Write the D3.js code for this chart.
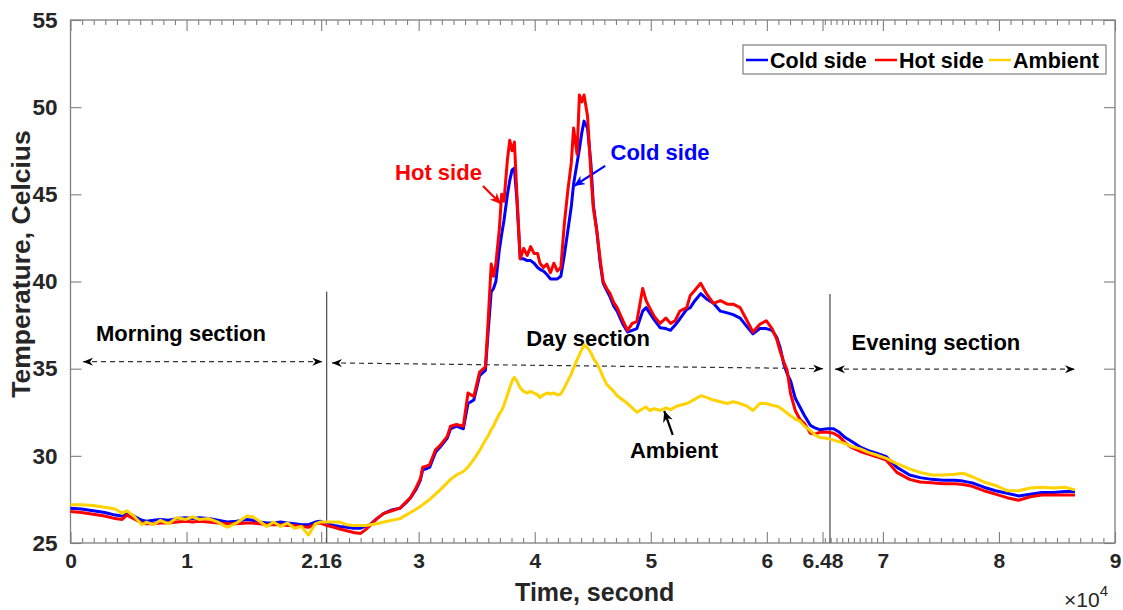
<!DOCTYPE html>
<html>
<head>
<meta charset="utf-8">
<script src="https://cdn.jsdelivr.net/npm/d3@7"></script>
<style>
  body { margin: 0; background: #fff; }
  svg { display: block; font-family: "Liberation Sans", Arial, sans-serif; }
  .tick text { font-weight: bold; fill: #262626; }
</style>
</head>
<body>
<div id="chart"></div>
<script>
// time in seconds, temperatures in Celsius
const timeSec = [
  0, 950, 1950, 2950, 3850, 4450, 4850, 5450, 6150, 6550,
  7150, 7750, 8450, 9150, 9950, 10500, 11100, 11900, 12700, 13500,
  14300, 15200, 15700, 16300, 16900, 17500, 18100, 18700, 19300, 19900,
  20500, 21100, 21500, 22100, 22700, 23200, 23800, 24400, 25000, 25400,
  25800, 26400, 27000, 27700, 28400, 28900, 29300, 29800, 30150, 30350,
  30650, 30950, 31450, 31850, 32450, 32750, 33250, 33850, 34250, 34750,
  35250, 35750, 35950, 36250, 36450, 36650, 36950, 37150, 37350, 37650,
  37850, 38050, 38250, 38450, 38750, 39050, 39350, 39650, 39950, 40250,
  40450, 40750, 41050, 41350, 41650, 41950, 42250, 42550, 42850, 43150,
  43350, 43650, 43850, 44050, 44250, 44550, 44850, 45050, 45350, 45650,
  45900, 46200, 46500, 46800, 47100, 47600, 48000, 48400, 48800, 49300,
  49600, 49900, 50300, 50800, 51300, 51700, 52100, 52500, 53100, 53400,
  53800, 54300, 54800, 55400, 56000, 56600, 57100, 57700, 58300, 58800,
  59400, 59950, 60450, 60850, 61150, 61450, 61750, 62050, 62450, 62850,
  63250, 63750, 64150, 64550, 65250, 65750, 66250, 66750, 67250, 68050,
  68750, 69450, 70300, 71200, 72300, 73200, 74200, 75200, 76200, 76900,
  77700, 78700, 79700, 80700, 81700, 82700, 83700, 84700, 85700, 86550
]

const coldSide = [
  27.0, 26.95, 26.85, 26.75, 26.6, 26.55, 26.7, 26.55, 26.3, 26.25,
  26.3, 26.35, 26.3, 26.4, 26.45, 26.4, 26.45, 26.4, 26.3, 26.2,
  26.25, 26.35, 26.3, 26.2, 26.15, 26.15, 26.2, 26.15, 26.1, 26.05,
  26.05, 26.2, 26.25, 26.1, 26.0, 25.95, 25.9, 25.85, 25.85, 25.95,
  26.05, 26.4, 26.7, 26.9, 27.0, 27.3, 27.6, 28.1, 28.6, 29.2,
  29.25, 29.35, 30.2, 30.5, 31.0, 31.55, 31.7, 31.55, 33.0, 33.2,
  34.6, 34.9, 36.8, 39.4, 39.6, 40.0, 41.8, 42.7, 43.5, 45.0,
  45.8, 46.4, 46.5, 44.8, 41.3, 41.3, 41.2, 41.2, 41.05, 40.8,
  40.7, 40.6, 40.4, 40.15, 40.15, 40.15, 40.3, 41.5, 42.9, 44.3,
  45.6, 46.8, 47.6, 48.5, 49.2, 48.8, 46.7, 44.4, 42.9, 41.0,
  39.9, 39.5, 39.1, 38.6, 38.3, 37.55, 37.1, 37.2, 37.3, 38.3,
  38.5, 38.2, 37.8, 37.35, 37.3, 37.2, 37.5, 37.85, 38.4, 38.5,
  38.9, 39.3, 39.0, 38.75, 38.3, 38.2, 38.1, 37.9, 37.4, 37.0,
  37.3, 37.3, 37.2, 36.8, 36.2, 35.3, 34.7, 34.3, 33.3, 32.8,
  32.3, 31.75, 31.6, 31.5, 31.55, 31.55, 31.35, 31.05, 30.85, 30.5,
  30.3, 30.15, 29.95, 29.35, 28.9, 28.75, 28.65, 28.6, 28.6, 28.55,
  28.45, 28.2, 28.0, 27.85, 27.7, 27.8, 27.9, 27.9, 27.95, 27.95
]

const hotSide = [
  26.8, 26.75, 26.65, 26.55, 26.4, 26.35, 26.6, 26.4, 26.15, 26.1,
  26.1, 26.15, 26.15, 26.2, 26.25, 26.2, 26.25, 26.2, 26.15, 26.1,
  26.1, 26.15, 26.15, 26.1, 26.05, 26.05, 26.05, 26.0, 26.0, 25.95,
  25.9, 26.1, 26.15, 26.0, 25.9, 25.8, 25.7, 25.6, 25.55, 25.75,
  26.0, 26.4, 26.7, 26.85, 27.0, 27.35, 27.6, 28.2, 28.7, 29.35,
  29.4, 29.5, 30.35, 30.6, 31.1, 31.7, 31.8, 31.7, 33.6, 33.4,
  34.8, 35.1, 37.3, 41.0, 40.3, 41.0, 43.0, 45.0, 44.6, 47.0,
  48.1, 47.5, 48.0, 45.2, 41.3, 41.9, 41.5, 42.0, 41.6, 41.6,
  41.05, 40.8, 41.0, 40.5, 41.05, 40.6, 40.8, 43.3, 45.2, 46.8,
  48.8, 47.3, 50.7, 50.3, 50.7, 49.5, 46.1, 44.2, 42.9, 41.2,
  40.0, 39.6, 39.3, 38.8, 38.5, 37.75, 37.2, 37.6, 37.7, 39.6,
  38.9, 38.5, 38.0, 37.6, 37.9, 37.6, 37.75, 38.3, 38.5, 39.2,
  39.5, 39.9, 39.3, 38.75, 38.9, 38.7, 38.7, 38.5, 37.75, 37.1,
  37.55, 37.75, 37.3, 36.7, 36.0, 35.4, 34.9, 33.55, 32.6, 32.1,
  31.85, 31.3, 31.25, 31.35, 31.35, 31.3, 31.1, 30.75, 30.5, 30.25,
  30.1, 29.95, 29.75, 29.05, 28.65, 28.5, 28.45, 28.4, 28.4, 28.35,
  28.25, 28.0, 27.8, 27.6, 27.45, 27.65, 27.75, 27.75, 27.75, 27.75
]

const ambient = [
  27.2, 27.2, 27.15, 27.05, 26.95, 26.7, 26.85, 26.55, 26.05, 26.2,
  26.05, 26.3, 26.1, 26.45, 26.35, 26.5, 26.35, 26.4, 26.2, 25.9,
  26.15, 26.55, 26.5, 26.25, 25.95, 26.2, 25.95, 26.15, 25.85, 25.95,
  25.45, 26.1, 26.2, 26.2, 26.2, 26.2, 26.05, 26.0, 26.0, 26.0,
  26.05, 26.1, 26.2, 26.3, 26.4, 26.6, 26.75, 26.95, 27.1, 27.2,
  27.35, 27.5, 27.8, 28.05, 28.45, 28.65, 28.9, 29.1, 29.35, 29.8,
  30.3, 30.9, 31.1, 31.5, 31.7, 32.0, 32.4, 32.6, 32.9, 33.5,
  33.9, 34.3, 34.5, 34.3, 33.9, 33.7, 33.6, 33.7, 33.6, 33.5,
  33.35, 33.5, 33.6, 33.55, 33.6, 33.5, 33.55, 33.9, 34.3, 34.7,
  35.05, 35.5, 35.8, 36.1, 36.35, 36.2, 35.9, 35.6, 35.3, 34.9,
  34.5, 34.1, 33.9, 33.7, 33.45, 33.2, 33.0, 32.75, 32.5, 32.7,
  32.8, 32.6, 32.7, 32.6, 32.75, 32.65, 32.8, 32.9, 33.0, 33.1,
  33.25, 33.45, 33.35, 33.2, 33.1, 33.0, 33.1, 33.0, 32.85, 32.6,
  33.0, 33.0, 32.9, 32.85, 32.75, 32.6, 32.45, 32.3, 32.1, 32.0,
  31.7, 31.45, 31.2, 31.05, 31.0, 30.9, 30.8, 30.7, 30.55, 30.4,
  30.2, 30.05, 29.85, 29.55, 29.25, 29.05, 28.9, 28.9, 28.95, 29.0,
  28.8, 28.5, 28.3, 28.0, 28.0, 28.15, 28.2, 28.15, 28.2, 28.05
]

const seriesNames = ["Cold side", "Hot side", "Ambient"]
const seriesColors = ["#0000ff", "#ff0000", "#ffd200"]

const xTickValues = [0, 10000, 21600, 30000, 40000, 50000, 60000, 64800, 70000, 80000, 90000]
const xTickLabels = ["0", "1", "2.16", "3", "4", "5", "6", "6.48", "7", "8", "9"]
const yTickValues = [25, 30, 35, 40, 45, 50, 55]

/** CONSTANTS */
const width = 1123
const height = 610
const margins = { top: 20, bottom: 67, left: 70.5, right: 8 }
const font = '"Liberation Sans", Arial, sans-serif'

/** SCALES */
const xScale = d3.scaleLinear()
  .domain([0, 90000])
  .range([margins.left, width - margins.right])

const yScale = d3.scaleLinear()
  .domain([25, 55])
  .range([height - margins.bottom, margins.top])

const svg = d3.select("#chart")
  .append("svg")
  .attr("width", width)
  .attr("height", height)

// arrow heads
const defs = svg.append("defs")
const addMarker = (id, color, len, half) => {
  defs.append("marker")
    .attr("id", id)
    .attr("viewBox", `${-len} ${-half} ${len} ${half * 2}`)
    .attr("refX", 0).attr("refY", 0)
    .attr("markerWidth", len).attr("markerHeight", half * 2)
    .attr("markerUnits", "userSpaceOnUse")
    .attr("orient", "auto-start-reverse")
    .append("path")
    .attr("d", `M0,0 L${-len},${-half} L${-len * 0.7},0 L${-len},${half} Z`)
    .attr("fill", color)
}
addMarker("headBlack", "#000", 10, 4)
addMarker("headRed", "#ff0000", 11, 5)
addMarker("headBlue", "#0000ff", 11, 5)
addMarker("headK", "#000", 11, 5)

/** AXES */
const minorTicks = d3.range(0, 90001, 1000)
  .filter(v => !xTickValues.includes(v) && (v < 65000 || v >= 70000))
  .concat(d3.range(65000, 70000, 500))

const axisColor = "#7f7f7f"

const styleAxis = g => {
  g.select(".domain").remove()
  g.selectAll(".tick line").attr("stroke", axisColor).attr("stroke-width", 1.1)
}

svg.append("g")
  .attr("transform", `translate(0,${height - margins.bottom})`)
  .call(d3.axisBottom(xScale).tickValues(minorTicks).tickSize(-5).tickFormat(""))
  .call(styleAxis)

svg.append("g")
  .attr("transform", `translate(0,${height - margins.bottom})`)
  .call(d3.axisBottom(xScale).tickValues(xTickValues).tickSize(-11).tickPadding(10)
    .tickFormat((d, i) => xTickLabels[i]))
  .call(styleAxis)
  .call(g => g.selectAll("text").attr("font-size", 21).attr("font-family", font))

svg.append("g")
  .attr("transform", `translate(0,${margins.top})`)
  .call(d3.axisTop(xScale).tickValues(minorTicks).tickSize(-5).tickFormat(""))
  .call(styleAxis)

svg.append("g")
  .attr("transform", `translate(0,${margins.top})`)
  .call(d3.axisTop(xScale).tickValues(xTickValues).tickSize(-11).tickFormat(""))
  .call(styleAxis)

svg.append("g")
  .attr("transform", `translate(${margins.left},0)`)
  .call(d3.axisLeft(yScale).tickValues(yTickValues).tickSize(-11).tickPadding(13))
  .call(styleAxis)
  .call(g => g.selectAll("text").attr("font-size", 22.5).attr("font-family", font))

svg.append("g")
  .attr("transform", `translate(${width - margins.right},0)`)
  .call(d3.axisRight(yScale).tickValues(yTickValues).tickSize(-11).tickFormat(""))
  .call(styleAxis)

// box
svg.append("rect")
  .attr("x", margins.left)
  .attr("y", margins.top)
  .attr("width", width - margins.left - margins.right)
  .attr("height", height - margins.top - margins.bottom)
  .attr("fill", "none")
  .attr("stroke", axisColor)
  .attr("stroke-width", 1.3)

/** SECTION ANNOTATIONS */
const annot = svg.append("g").attr("font-family", font).attr("font-weight", "bold")

// section dividers
;[[22070, 39.42], [65440, 39.29]].forEach(([t, top]) => {
  annot.append("line")
    .attr("x1", xScale(t)).attr("x2", xScale(t))
    .attr("y1", yScale(top)).attr("y2", yScale(25))
    .attr("stroke", "#555").attr("stroke-width", 1.3)
})

const sections = [
  { name: "Morning section", tx: 9520, ty: 36.6, from: [1080, 35.4], to: [21700, 35.4] },
  { name: "Day section", tx: 44600, ty: 36.3, from: [22530, 35.33], to: [64840, 35.0] },
  { name: "Evening section", tx: 74570, ty: 36.05, from: [65870, 34.97], to: [86550, 34.97] }
]

sections.forEach(s => {
  annot.append("text")
    .attr("x", xScale(s.tx)).attr("y", yScale(s.ty))
    .attr("text-anchor", "middle")
    .attr("font-size", 22)
    .text(s.name)
  annot.append("line")
    .attr("x1", xScale(s.from[0])).attr("y1", yScale(s.from[1]))
    .attr("x2", xScale(s.to[0])).attr("y2", yScale(s.to[1]))
    .attr("stroke", "#333").attr("stroke-width", 1.2)
    .attr("stroke-dasharray", "5,4")
    .attr("marker-start", "url(#headBlack)")
    .attr("marker-end", "url(#headBlack)")
})

/** LINES */
const line = d3.line()
  .x((d, i) => xScale(timeSec[i]))
  .y(d => yScale(d))

svg.selectAll("path.series")
  .data([coldSide, hotSide, ambient])
  .join("path")
  .attr("class", "series")
  .attr("d", line)
  .attr("fill", "none")
  .attr("stroke", (d, i) => seriesColors[i])
  .attr("stroke-width", 3)
  .attr("stroke-linejoin", "round")

/** CURVE LABELS */
const labels = [
  { text: "Hot side", color: "#ff0000", marker: "headRed", tx: 31710, ty: 45.83, from: [35540, 45.48], to: [37090, 44.45] },
  { text: "Cold side", color: "#0000ff", marker: "headBlue", tx: 50800, ty: 46.97, from: [46070, 46.63], to: [43380, 45.48] },
  { text: "Ambient", color: "#000000", marker: "headK", tx: 52000, ty: 29.89, from: [51890, 31.2], to: [51160, 32.58] }
]

labels.forEach(l => {
  annot.append("text")
    .attr("x", xScale(l.tx)).attr("y", yScale(l.ty))
    .attr("text-anchor", "middle")
    .attr("font-size", 22)
    .attr("fill", l.color)
    .text(l.text)
  annot.append("line")
    .attr("x1", xScale(l.from[0])).attr("y1", yScale(l.from[1]))
    .attr("x2", xScale(l.to[0])).attr("y2", yScale(l.to[1]))
    .attr("stroke", l.color).attr("stroke-width", 2.2)
    .attr("marker-end", `url(#${l.marker})`)
})

/** AXIS TITLES */
svg.append("text")
  .attr("x", xScale(45000) + 2)
  .attr("y", 601)
  .attr("text-anchor", "middle")
  .attr("font-family", font).attr("font-weight", "bold").attr("font-size", 25)
  .attr("fill", "#262626")
  .text("Time, second")

const expo = svg.append("text")
  .attr("x", 1064).attr("y", 607)
  .attr("font-family", font).attr("font-size", 21)
  .attr("fill", "#262626")
expo.append("tspan").text("\u00d710")
expo.append("tspan").attr("dy", -11).attr("font-size", 15).text("4")

svg.append("text")
  .attr("transform", `translate(30,264) rotate(-90)`)
  .attr("text-anchor", "middle")
  .attr("font-family", font).attr("font-weight", "bold").attr("font-size", 26.5)
  .attr("fill", "#262626")
  .text("Temperature, Celcius")

/** LEGEND */
const legend = svg.append("g").attr("font-family", font).attr("font-weight", "bold")
legend.append("rect")
  .attr("x", 743).attr("y", 45)
  .attr("width", 363).attr("height", 29)
  .attr("fill", "#fff").attr("stroke", axisColor).attr("stroke-width", 1.2)

const legendX = [746, 875, 989]
seriesNames.forEach((name, i) => {
  legend.append("line")
    .attr("x1", legendX[i]).attr("x2", legendX[i] + 22)
    .attr("y1", 60).attr("y2", 60)
    .attr("stroke", seriesColors[i]).attr("stroke-width", 2.5)
  legend.append("text")
    .attr("x", legendX[i] + 24).attr("y", 68)
    .attr("font-size", 21.5)
    .text(name)
})
</script>
</body>
</html>
